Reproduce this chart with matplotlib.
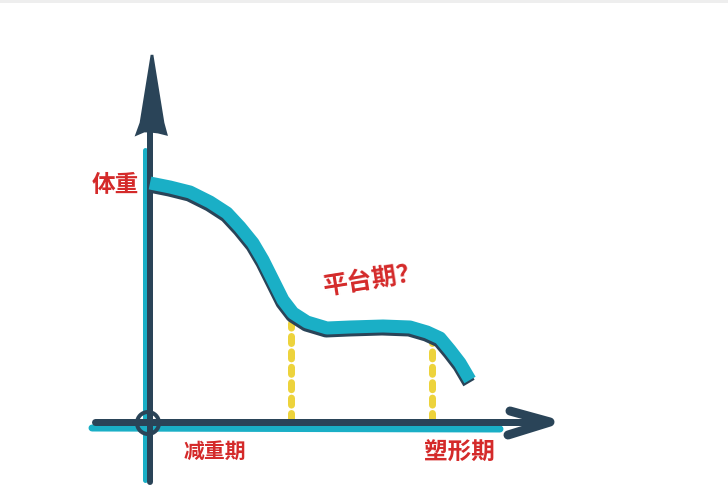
import numpy as np
import matplotlib
matplotlib.use("Agg")
from matplotlib import pyplot as plot

plot.rcParams['font.family'] = ['Noto Sans CJK SC', 'DejaVu Sans']

# colours
DARK = '#2A4458'
CYAN = '#1AAFC6'
RED = '#D42A2A'
YELLOW = '#EDD33C'

# weight curve, chart units (origin at the axes crossing, y up)
time = [2, 22, 42, 62, 79, 92, 105, 115, 125, 135, 145, 159, 179, 202, 235,
        262, 279, 292, 302, 312, 322]
weight = [240, 236, 231, 221, 210, 196, 180, 163, 143, 123, 110, 101, 95, 96, 97,
          96, 91, 85, 73, 60, 43]

# plateau limits (dashed guides)
guideT = [143, 284]
guideW = [100, 82]

labelY = '体重'
labelLoss = '减重期'
labelShape = '塑形期'
labelPlateau = '平台期？'

px = 1.0 / 0.72  # pixels per point at dpi 100

fig = plot.figure(figsize=(7.28, 4.93), dpi=100)
ax = fig.add_axes([0, 0, 1, 1])
ax.set_xlim(-148, 580)
ax.set_ylim(-70, 423)
ax.axis('off')

# faint top border
ax.axhspan(420, 423, color='#EEEEEE', lw=0)

# y axis: cyan strip + dark stroke + arrow head
ax.plot([-3, -3], [-57, 273], color=CYAN, lw=5 / px, solid_capstyle='round', zorder=2)
ax.plot([2, 2], [-59, 295], color=DARK, lw=6 / px, solid_capstyle='round', zorder=3)
ax.fill([4, -7, -11, -4, 1, 10, 18, 15], [368, 300, 289, 292, 292, 291, 289, 300],
        color=DARK, lw=2, zorder=3)

# x axis: cyan strip + dark stroke + open arrow
ax.plot([-56, 352], [-5, -6], color=CYAN, lw=7 / px, solid_capstyle='round', zorder=2)
ax.plot([-53, 395], [1, 1], color=DARK, lw=7 / px, solid_capstyle='round', zorder=3)
ax.plot([362, 402, 360], [12, 1, -12], color=DARK, lw=9 / px,
        solid_capstyle='round', solid_joinstyle='round', zorder=3)

# origin circle
ax.add_patch(plot.Circle((0, 0), 11, facecolor='none', edgecolor=DARK, lw=4 / px, zorder=4))

# dashed guides
for t, w in zip(guideT, guideW):
  ax.plot([t, t], [3, w], color=YELLOW, lw=7 / px, ls=(0, (1.0, 1.2)),
          dash_capstyle='round', zorder=2)

# curve with shadow
ax.plot(np.array(time) - 1, np.array(weight) - 3, color=DARK, lw=13 / px,
        solid_capstyle='butt', solid_joinstyle='round', zorder=4)
ax.plot(time, weight, color=CYAN, lw=13 / px,
        solid_capstyle='butt', solid_joinstyle='round', zorder=5)

# labels
ax.text(-9, 238, labelY, color=RED, fontsize=17, fontweight='bold',
        ha='right', va='center', zorder=6)
ax.text(36, -28, labelLoss, color=RED, fontsize=15, fontweight='bold',
        ha='left', va='center', zorder=6)
ax.text(276, -30, labelShape, color=RED, fontsize=17, fontweight='bold',
        ha='left', va='center', zorder=6)
ax.text(225, 143, labelPlateau, color=RED, fontsize=18, fontweight='bold',
        ha='center', va='center', rotation=9, zorder=6)

fig.savefig('out.png', dpi=100)
